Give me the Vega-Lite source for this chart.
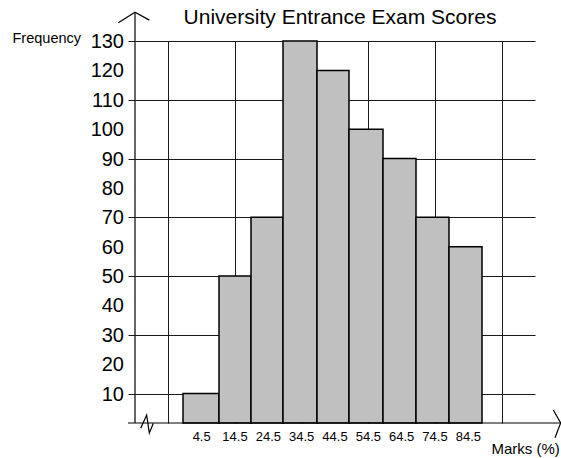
{
  "$schema": "https://vega.github.io/schema/vega-lite/v6.json",
  "width": 400,
  "height": 382,
  "autosize": {"type": "none"},
  "padding": {"left": 135, "top": 41, "right": 26, "bottom": 35},
  "background": "white",
  "config": {
    "view": {"stroke": null},
    "font": "Liberation Sans"
  },
  "title": {
    "text": "University Entrance Exam Scores",
    "font": "Liberation Sans",
    "fontSize": 21,
    "fontWeight": "normal",
    "color": "black",
    "anchor": "middle",
    "frame": "group",
    "dx": 5,
    "dy": 22
  },
  "datasets": {
    "bars": [
      {"lo": -1.1, "hi": 9.7, "freq": 10},
      {"lo": 9.7, "hi": 19.3, "freq": 50},
      {"lo": 19.3, "hi": 28.9, "freq": 70},
      {"lo": 28.9, "hi": 39.1, "freq": 130},
      {"lo": 39.1, "hi": 48.7, "freq": 120},
      {"lo": 48.7, "hi": 58.9, "freq": 100},
      {"lo": 58.9, "hi": 68.8, "freq": 90},
      {"lo": 68.8, "hi": 78.7, "freq": 70},
      {"lo": 78.7, "hi": 88.6, "freq": 60}
    ],
    "xlabels": [
      {"mark": 4.5, "text": "4.5"},
      {"mark": 14.5, "text": "14.5"},
      {"mark": 24.5, "text": "24.5"},
      {"mark": 34.5, "text": "34.5"},
      {"mark": 44.5, "text": "44.5"},
      {"mark": 54.5, "text": "54.5"},
      {"mark": 64.5, "text": "64.5"},
      {"mark": 74.5, "text": "74.5"},
      {"mark": 84.5, "text": "84.5"}
    ],
    "ylabels": [
      {"f": 10}, {"f": 20}, {"f": 30}, {"f": 40}, {"f": 50}, {"f": 60}, {"f": 70},
      {"f": 80}, {"f": 90}, {"f": 100}, {"f": 110}, {"f": 120}, {"f": 130}
    ],
    "lines": [
      {"part": "yaxis", "seq": 1, "px": -15.5, "py": 0},
      {"part": "yaxis", "seq": 2, "px": -15.5, "py": 139.8},
      {"part": "yarrow", "seq": 1, "px": -20.5, "py": 136.2},
      {"part": "yarrow", "seq": 2, "px": -15.5, "py": 139.8},
      {"part": "yarrow", "seq": 3, "px": -11.2, "py": 137.1},
      {"part": "xaxis", "seq": 1, "px": -17.6, "py": 0},
      {"part": "xaxis", "seq": 2, "px": 112.2, "py": 0},
      {"part": "xarrow", "seq": 1, "px": 110.0, "py": 4.4},
      {"part": "xarrow", "seq": 2, "px": 112.2, "py": 0},
      {"part": "xarrow", "seq": 3, "px": 110.5, "py": -5.0},
      {"part": "zig", "seq": 1, "px": -13.8, "py": -1.8},
      {"part": "zig", "seq": 2, "px": -12.0, "py": 2.7},
      {"part": "zig", "seq": 3, "px": -11.2, "py": -3.4},
      {"part": "zig", "seq": 4, "px": -10.0, "py": -0.1}
    ]
  },
  "layer": [
    {
      "data": {"name": "bars"},
      "mark": {"type": "rect", "fill": "#c0c0c0", "stroke": "black", "strokeWidth": 1.5},
      "encoding": {
        "x": {
          "field": "lo",
          "type": "quantitative",
          "scale": {"domain": [-15.5, 104.5], "nice": false, "zero": false},
          "axis": {
            "values": [-5.5, 4.5, 14.5, 24.5, 34.5, 44.5, 54.5, 64.5, 74.5, 84.5, 94.5, 104.5],
            "labels": false,
            "ticks": false,
            "domain": false,
            "grid": true,
            "gridColor": "#1a1a1a",
            "gridWidth": 1,
            "gridOpacity": 1,
            "title": "Marks (%)",
            "titleFont": "Liberation Sans",
            "titleFontSize": 15,
            "titleFontWeight": "normal",
            "titleColor": "black",
            "titleAlign": "left",
            "titleBaseline": "alphabetic",
            "titleAnchor": null,
            "titleX": 356,
            "titleY": 30
          }
        },
        "x2": {"field": "hi"},
        "y": {
          "field": "freq",
          "type": "quantitative",
          "scale": {"domain": [0, 130], "nice": false},
          "axis": {
            "values": [10, 20, 30, 40, 50, 60, 70, 80, 90, 100, 110, 120, 130],
            "labels": false,
            "ticks": true,
            "tickSize": 7,
            "tickColor": "#1a1a1a",
            "tickWidth": 1,
            "domain": false,
            "grid": true,
            "gridColor": "#1a1a1a",
            "gridWidth": 1,
            "gridOpacity": 1,
            "title": "Frequency",
            "titleFont": "Liberation Sans",
            "titleFontSize": 14.5,
            "titleFontWeight": "normal",
            "titleColor": "black",
            "titleAngle": 0,
            "titleAlign": "left",
            "titleBaseline": "alphabetic",
            "titleAnchor": null,
            "titleX": -123,
            "titleY": 1
          }
        },
        "y2": {"datum": 0}
      }
    },
    {
      "data": {"name": "lines"},
      "mark": {"type": "line", "color": "black", "strokeWidth": 1.2, "clip": false},
      "encoding": {
        "x": {"field": "px", "type": "quantitative"},
        "y": {"field": "py", "type": "quantitative"},
        "detail": {"field": "part"},
        "order": {"field": "seq"}
      }
    },
    {
      "data": {"name": "xlabels"},
      "mark": {"type": "text", "font": "Liberation Sans", "fontSize": 13, "color": "black", "align": "center", "baseline": "alphabetic", "dy": 18, "clip": false},
      "encoding": {
        "x": {"field": "mark", "type": "quantitative"},
        "y": {"datum": 0},
        "text": {"field": "text"}
      }
    },
    {
      "data": {"name": "ylabels"},
      "mark": {"type": "text", "font": "Liberation Sans", "fontSize": 20, "color": "black", "align": "right", "baseline": "middle", "dx": -11, "dy": 1, "clip": false},
      "encoding": {
        "x": {"datum": -15.5},
        "y": {"field": "f", "type": "quantitative"},
        "text": {"field": "f"}
      }
    }
  ]
}
